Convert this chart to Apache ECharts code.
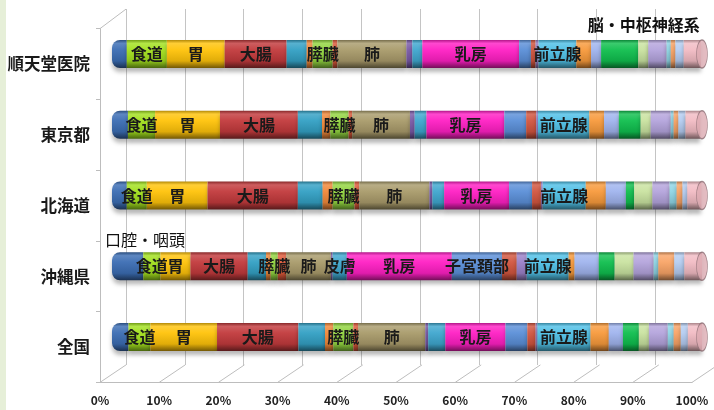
<!DOCTYPE html>
<html><head><meta charset="utf-8">
<script src="https://cdn.jsdelivr.net/npm/echarts@6/dist/echarts.min.js"></script>
<style>
html,body{margin:0;padding:0;background:linear-gradient(to right,#e6efd8 0,#e6efd8 6px,#ffffff 6px);}
#c{width:714px;height:410px}
</style>
</head><body><div id="c"></div><script>
// ---- data ----
const categories = ['順天堂医院','東京都','北海道','沖縄県','全国'];
const xTicks = [0,10,20,30,40,50,60,70,80,90,100];
const siteNames = ['口腔・咽頭','食道','胃','大腸','肝臓','胆のう・胆管','膵臓','喉頭','肺','骨・軟部','皮膚','乳房','子宮頚部','子宮体部','卵巣','前立腺','膀胱','腎・他の尿路','脳・中枢神経系','甲状腺','悪性リンパ腫','多発性骨髄腫','白血病','他の造血器腫瘍','その他'];
const siteColors = ['#3b6db3','#a2e01e','#ffc30a','#c23a3c','#33a0c4','#f0883a','#92d440','#e05a3a','#a99b6b','#7a5aa8','#3fa7cf','#ff20c4','#5b8fd8','#d2553f','#9a80c8','#4fc0e6','#f89a3c','#a0b4ee','#10bf4e','#c9e3a0','#b4a4dc','#8fd6e6','#f9a466','#b5cdf2','#f2bcc4'];
// percentage per site, same order as siteNames
const juntendo = [2.5,6.8,9.8,10.5,3.4,1.0,3.4,0.8,11.7,1.0,1.7,16.4,2.0,0.8,0.5,6.4,2.5,1.7,6.3,1.7,3.1,0.7,0.8,1.4,2.9];
const tokyo    = [2.7,4.6,11.0,13.2,4.1,1.4,3.1,0.6,9.8,0.8,2.0,13.2,3.7,1.7,0.3,8.7,2.5,2.5,3.7,1.7,3.4,0.5,0.8,1.2,2.5];
const hokkaido = [2.5,3.4,10.3,15.3,4.2,1.7,3.7,0.8,11.9,0.5,2.0,11.0,3.9,1.5,0.3,7.3,3.4,3.4,1.4,3.1,2.9,1.2,1.0,0.8,2.4];
const okinawa  = [5.3,2.9,5.1,9.7,3.1,0.8,1.2,1.4,7.6,0.3,2.4,17.8,8.5,2.5,1.7,7.1,1.0,4.1,2.7,3.2,3.4,0.8,2.7,1.7,3.2];
const zenkoku  = [2.8,3.7,11.3,13.8,4.5,1.4,3.4,0.8,11.4,0.5,2.9,10.2,3.7,1.4,0.3,9.0,3.1,2.4,2.7,1.7,3.2,1.0,1.2,1.2,2.5];
const rows = [juntendo, tokyo, hokkaido, okinawa, zenkoku];
// which bars show the in-bar site label
const labelAll = ['食道','胃','大腸','膵臓','肺','乳房','前立腺'];
const labelOnly = {'皮膚':['沖縄県'],'子宮頚部':['沖縄県']};
// ---- helpers ----
function mix(hex,t){
  const n=parseInt(hex.slice(1),16);let r=n>>16,g=(n>>8)&255,b=n&255;
  const tgt=t>0?255:0,a=Math.abs(t);
  r=Math.round(r+(tgt-r)*a);g=Math.round(g+(tgt-g)*a);b=Math.round(b+(tgt-b)*a);
  return 'rgb('+r+','+g+','+b+')';
}
function grad(c){
  return new echarts.graphic.LinearGradient(0,0,0,1,[
    {offset:0,color:mix(c,-0.3)},{offset:0.12,color:mix(c,0.18)},
    {offset:0.35,color:mix(c,0.05)},{offset:0.75,color:mix(c,-0.12)},
    {offset:1,color:mix(c,-0.55)}]);
}
const FONT='"Noto Sans CJK JP","Noto Sans",sans-serif';
const chart = echarts.init(document.getElementById('c'));
const barSeries = siteNames.map((name,i)=>{
  const lab = {show:true,position:'inside',fontFamily:FONT,fontSize:16,fontWeight:'bold',color:'#1a1a1a',
    formatter:p=>{
      if(labelAll.includes(name)) return name;
      if(labelOnly[name] && labelOnly[name].includes(p.name)) return name;
      return '';
    }};
  const s = {type:'bar',name,stack:'all',xAxisIndex:0,yAxisIndex:0,barWidth:28,
    data: rows.map((r,k)=>({value:r[i],name:categories[k]})),
    itemStyle:{color:grad(siteColors[i]),borderRadius:i===0?[8,0,0,8]:0,
      shadowColor:'rgba(0,0,0,0.28)',shadowBlur:4,shadowOffsetY:4},
    label:lab, emphasis:{disabled:true}, animation:false};
  if(name==='口腔・咽頭'){
    s.data[3].label={show:true,position:[-7,-20],formatter:name,fontWeight:'normal',color:'#111',fontSize:16};
  }
  if(name==='脳・中枢神経系'){
    s.data[0].label={show:true,position:'top',distance:7,offset:[24,0],formatter:name,fontWeight:'bold',color:'#111',fontSize:16};
  }
  return s;
});
const option = {
  animation:false,
  grid:[
    {left:112,right:12,top:18.6,bottom:37.6},   // bars (mid depth)
    {left:100,right:22,top:28.6,bottom:27.6},   // front plane (labels)
    {left:126,right:-2,top:9,bottom:45}         // back wall
  ],
  xAxis:[
    {gridIndex:0,type:'value',min:0,max:100,show:false},
    {gridIndex:1,type:'value',min:0,max:100,interval:10,
      axisLine:{show:true,lineStyle:{color:'#bdbdbd'}},axisTick:{show:false},splitLine:{show:false},
      axisLabel:{formatter:'{value}%',fontFamily:FONT,fontSize:12,fontWeight:'bold',color:'#222',margin:12}},
    {gridIndex:2,type:'value',min:0,max:100,interval:10,axisLabel:{show:false},axisTick:{show:false},
      axisLine:{show:false},splitLine:{show:true,lineStyle:{color:'#c4c4c4',width:1}}}
  ],
  yAxis:[
    {gridIndex:0,type:'category',data:categories,inverse:true,show:false},
    {gridIndex:1,type:'category',data:categories,inverse:true,
      axisLine:{show:true,lineStyle:{color:'#bdbdbd'}},
      axisTick:{show:true,length:4,lineStyle:{color:'#bdbdbd'}},
      axisLabel:{fontFamily:FONT,fontSize:16.5,fontWeight:'bold',color:'#1a1a1a',margin:10}},
    {gridIndex:2,type:'value',show:false}
  ],
  series:[
    {type:'custom',xAxisIndex:1,yAxisIndex:1,silent:true,z:1,
      data:xTicks.map(v=>[v,0]),
      renderItem:(params,api)=>{
        const cs=params.coordSys;const x=api.coord([api.value(0),0])[0];
        const yb=cs.y+cs.height;
        const kids=[{type:'line',shape:{x1:x,y1:yb,x2:x+26,y2:yb-17.5},style:{stroke:'#bdbdbd',lineWidth:1}}];
        if(api.value(0)===0){
          kids.push({type:'line',shape:{x1:cs.x,y1:cs.y,x2:cs.x+26,y2:cs.y-19.5},style:{stroke:'#bdbdbd',lineWidth:1}});
        }
        return {type:'group',children:kids};
      }},
    ...barSeries,
    {type:'scatter',xAxisIndex:0,yAxisIndex:0,z:5,silent:true,
      data:categories.map(c=>[100,c]),symbol:'circle',symbolSize:[11,28],
      itemStyle:{color:'#dcaab2',borderColor:'#8c6e74',borderWidth:1}}
  ]
};
chart.setOption(option);
</script></body></html>
